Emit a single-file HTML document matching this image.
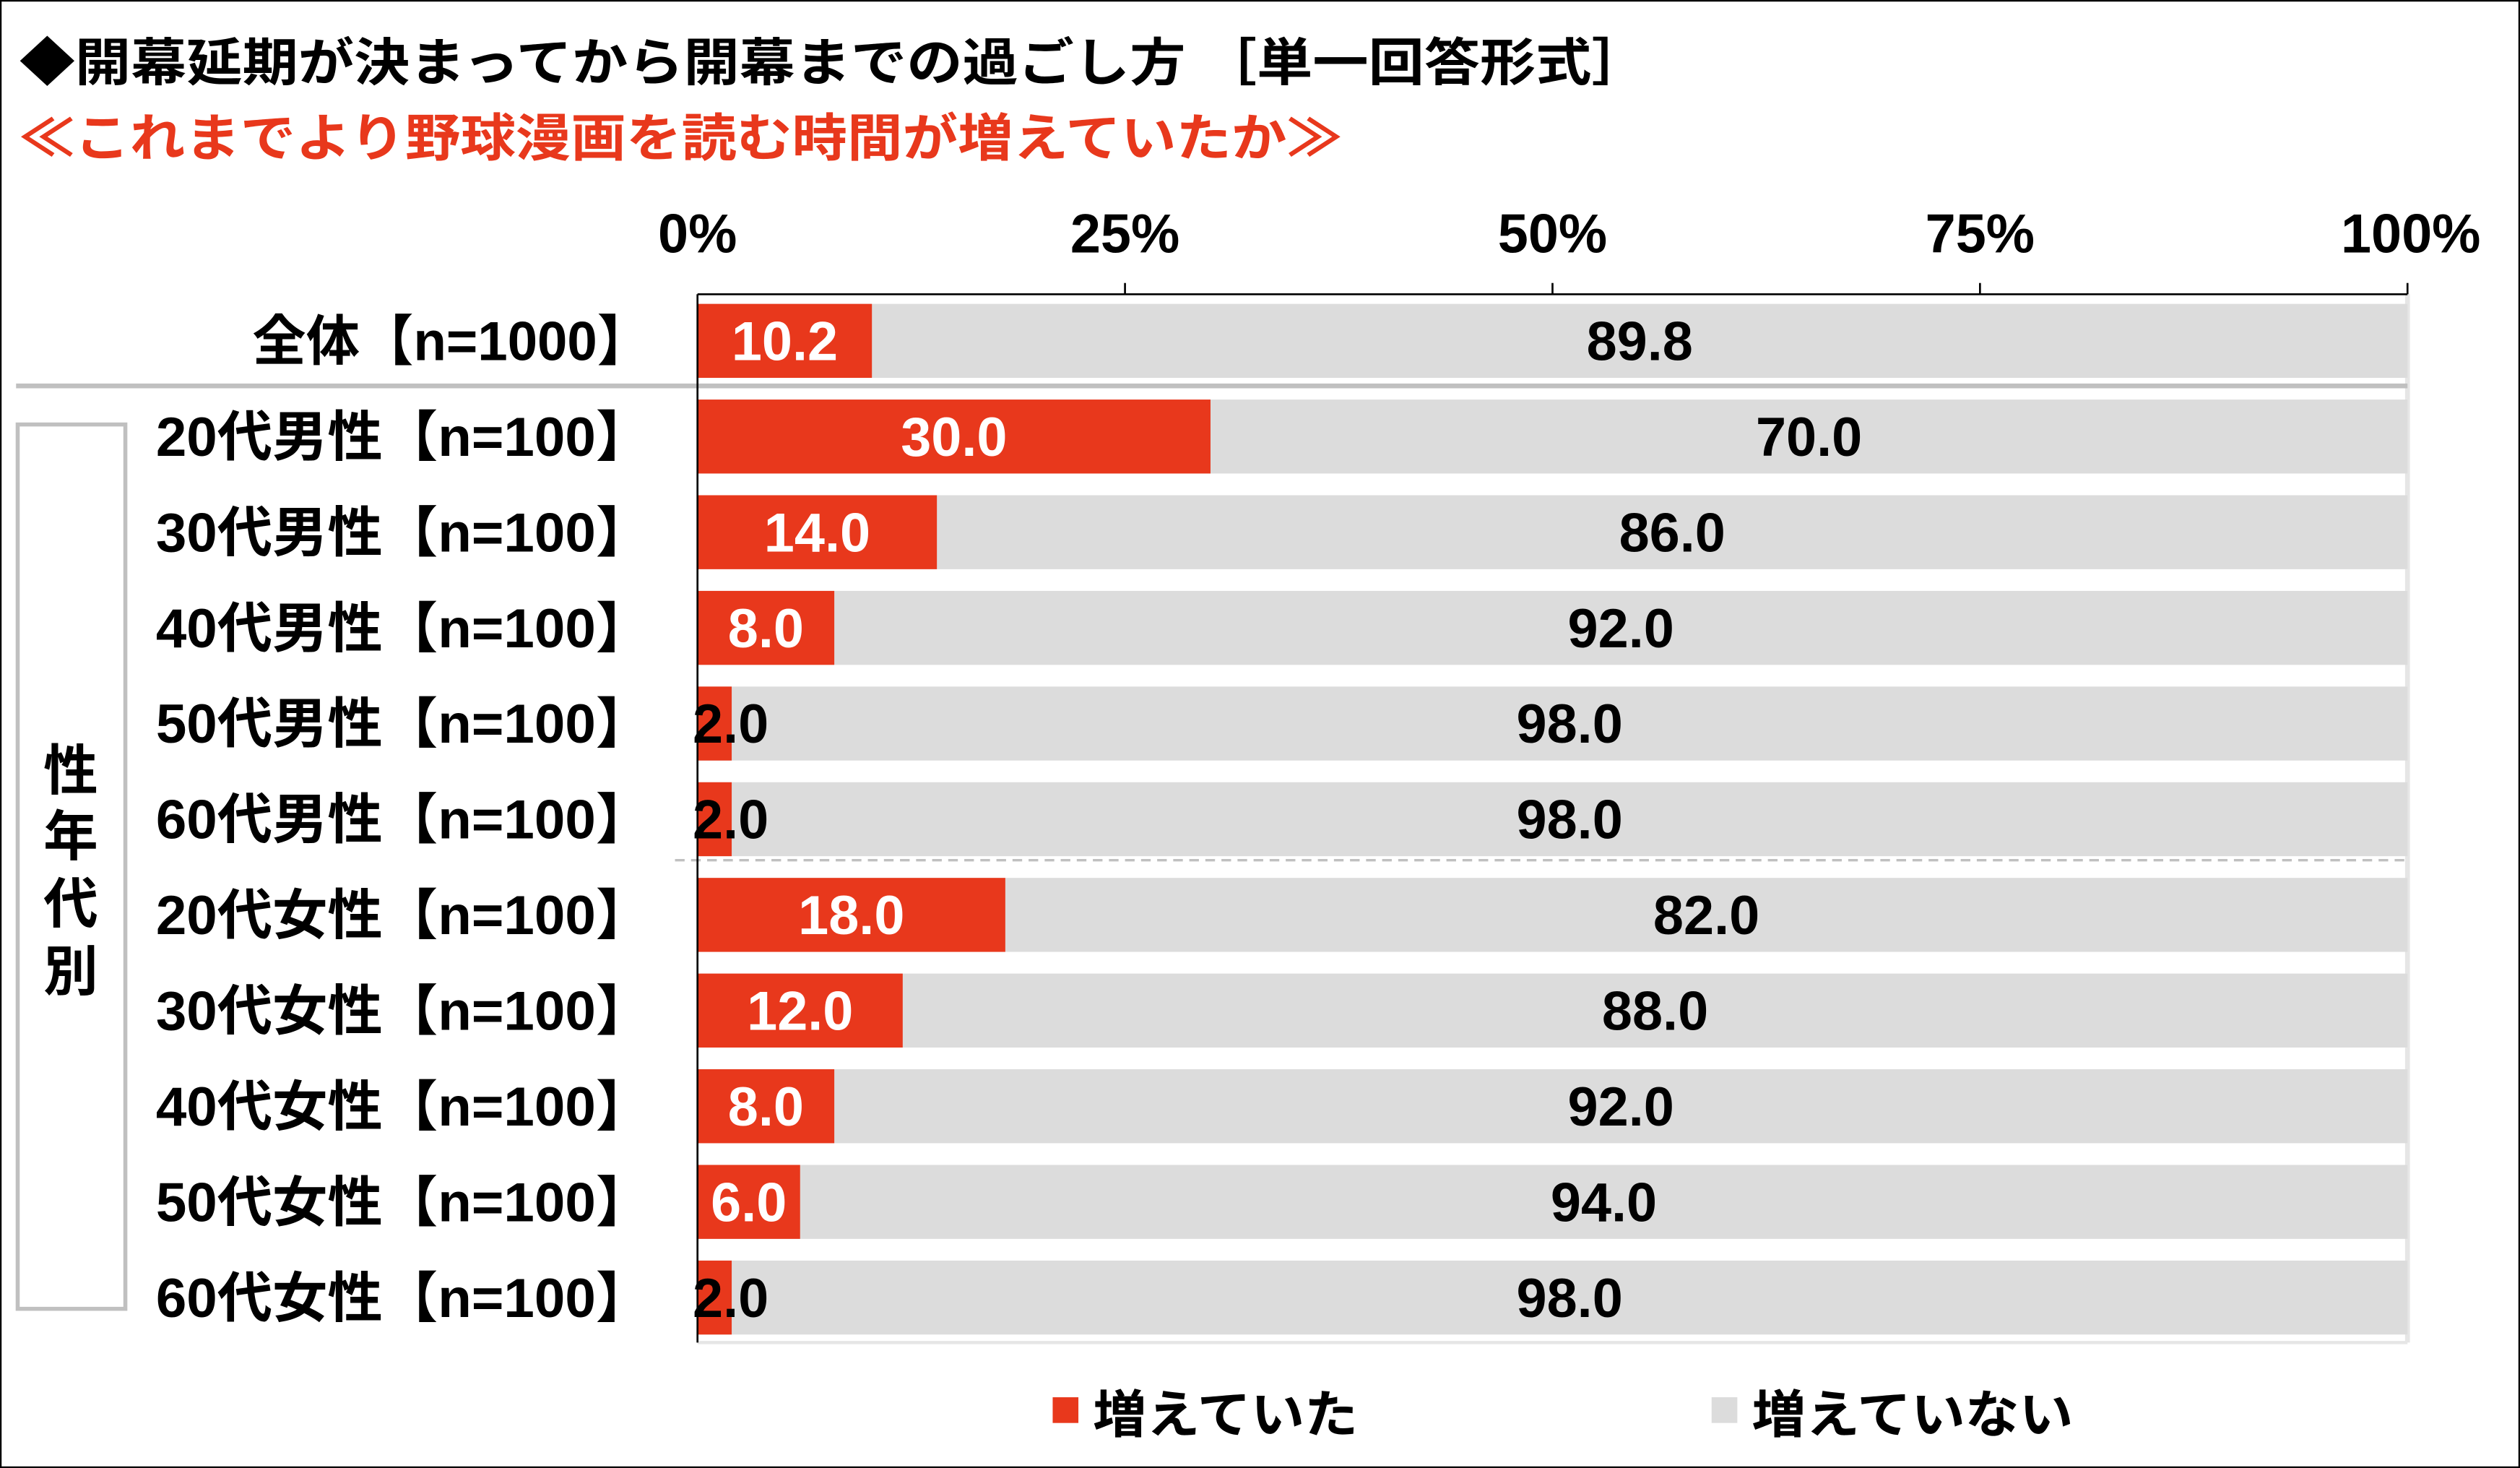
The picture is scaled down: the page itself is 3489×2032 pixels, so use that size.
<!DOCTYPE html>
<html><head><meta charset="utf-8"><style>
html,body{margin:0;padding:0;background:#fff;}
svg{display:block;}
text{font-family:"Liberation Sans","Noto Sans CJK JP",sans-serif;font-weight:bold;}
</style></head><body>
<svg width="3489" height="2032" viewBox="0 0 1568 913" preserveAspectRatio="none" xmlns="http://www.w3.org/2000/svg">
<rect x="0.5" y="0.5" width="1567" height="912" fill="#fff" stroke="#000" stroke-width="1"/>
<text x="12" y="50" font-size="32" textLength="1013" lengthAdjust="spacingAndGlyphs">◆開幕延期が決まってから開幕までの過ごし方 ［単一回答形式］</text>
<text x="12" y="97" font-size="32" fill="#e8381c" textLength="823" lengthAdjust="spacingAndGlyphs">≪これまでより野球漫画を読む時間が増えていたか≫</text>
<g font-size="34" text-anchor="middle">
<text x="434" y="157">0%</text><text x="700" y="157">25%</text><text x="966" y="157">50%</text><text x="1232" y="157">75%</text><text x="1500" y="157">100%</text>
</g>
<line x1="1498" y1="183" x2="1498" y2="835" stroke="#e6e6e6" stroke-width="3"/>
<line x1="434" y1="835" x2="1498" y2="835" stroke="#e6e6e6" stroke-width="2"/>
<g id="bars"></g>
<line x1="10" y1="240" x2="1498" y2="240" stroke="#c0c0c0" stroke-width="3"/>
<line x1="420" y1="535" x2="1500" y2="535" stroke="#c0c0c0" stroke-width="1.5" stroke-dasharray="6,4"/>
<line x1="434" y1="183" x2="1498" y2="183" stroke="#000" stroke-width="1.2"/>
<line x1="434" y1="183" x2="434" y2="835" stroke="#000" stroke-width="1.2"/>
<g stroke="#000" stroke-width="1.2">
<line x1="700" y1="176" x2="700" y2="183"/><line x1="966" y1="176" x2="966" y2="183"/><line x1="1232" y1="176" x2="1232" y2="183"/><line x1="1498" y1="176" x2="1498" y2="183"/>
</g>
<rect x="11" y="264" width="67" height="550" fill="none" stroke="#c0c0c0" stroke-width="2.5"/>
<g font-size="34" text-anchor="middle">
<text x="44" y="491">性</text><text x="44" y="532">年</text><text x="44" y="574">代</text><text x="44" y="616">別</text>
</g>
<g font-size="34" text-anchor="end" id="cats"></g>
<rect x="655" y="869" width="16" height="16" fill="#e8381c"/>
<text x="680" y="891" font-size="32" textLength="165" lengthAdjust="spacingAndGlyphs">増えていた</text>
<rect x="1065" y="869" width="16" height="16" fill="#dcdcdc"/>
<text x="1090" y="891" font-size="32" textLength="200" lengthAdjust="spacingAndGlyphs">増えていない</text>
<script>
var rows=[["全体【n=1000】",10.2],["20代男性【n=100】",30],["30代男性【n=100】",14],["40代男性【n=100】",8],["50代男性【n=100】",2],["60代男性【n=100】",2],["20代女性【n=100】",18],["30代女性【n=100】",12],["40代女性【n=100】",8],["50代女性【n=100】",6],["60代女性【n=100】",2]];
var ns="http://www.w3.org/2000/svg",b=document.getElementById("bars"),c=document.getElementById("cats");
function el(p,t,a,tx){var e=document.createElementNS(ns,t);for(var k in a)e.setAttribute(k,a[k]);if(tx)e.textContent=tx;p.appendChild(e);return e;}
rows.forEach(function(r,i){
 var cy=212+i*59.5,w=r[1]*10.64,h=46,y=cy-h/2;
 el(b,"rect",{x:434,y:y,width:1064,height:h,fill:"#dcdcdc"});
 el(b,"rect",{x:434,y:y,width:w,height:h,fill:"#e8381c"});
 var v=r[1].toFixed(1),g=(100-r[1]).toFixed(1);
 if(r[1]<5){el(b,"text",{x:431,y:cy+12,"font-size":34},v);}
 else el(b,"text",{x:434+w/2,y:cy+12,"font-size":34,fill:"#fff","text-anchor":"middle"},v);
 el(b,"text",{x:(434+w+1498)/2,y:cy+12,"font-size":34,"text-anchor":"middle"},g);
 var L=i==0?248:308;
 el(c,"text",{x:405,y:cy+12,textLength:L,lengthAdjust:"spacingAndGlyphs"},r[0]);
});
</script>
</svg>
</body></html>
